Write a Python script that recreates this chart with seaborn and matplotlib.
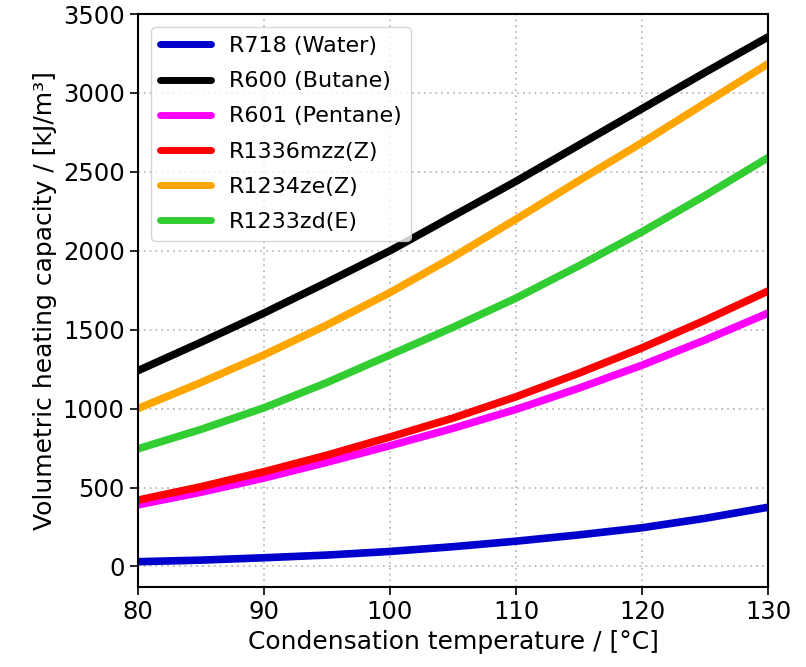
from matplotlib import pyplot as plt
import pandas as pd
import seaborn as sns

# condensation temperature, degC
temps = [80, 85, 90, 95, 100, 105, 110, 115, 120, 125, 130]

# volumetric heating capacity, kJ/m3
r718 = [30, 40, 55, 72, 95, 125, 160, 200, 245, 305, 375]
r600 = [1240, 1420, 1605, 1800, 2000, 2220, 2440, 2670, 2900, 3130, 3355]
r601 = [390, 470, 560, 660, 765, 875, 995, 1130, 1275, 1435, 1605]
r1336 = [420, 505, 600, 705, 820, 940, 1075, 1225, 1385, 1560, 1745]
r1234 = [1000, 1165, 1340, 1530, 1735, 1960, 2200, 2445, 2685, 2935, 3185]
r1233 = [745, 868, 1005, 1165, 1340, 1515, 1700, 1905, 2120, 2350, 2590]

names = ['R718 (Water)', 'R600 (Butane)', 'R601 (Pentane)',
         'R1336mzz(Z)', 'R1234ze(Z)', 'R1233zd(E)']
colors = ['#0000CD', '#000000', '#FF00FF', '#FF0000', '#FFA500', '#32CD32']

frames = []
for name, vals in zip(names, [r718, r600, r601, r1336, r1234, r1233]):
    frames.append(pd.DataFrame({'T': temps, 'VHC': vals, 'fluid': name}))
df = pd.concat(frames, ignore_index=True)

sns.set_style('ticks')
plt.rcParams['font.family'] = ['DejaVu Sans']
plt.rcParams['text.color'] = 'black'
plt.rcParams['axes.labelcolor'] = 'black'
plt.rcParams['xtick.color'] = 'black'
plt.rcParams['ytick.color'] = 'black'

fig = plt.figure(figsize=(8.06, 6.67), dpi=100)
ax = fig.add_axes([0.171, 0.12, 0.782, 0.859])

sns.lineplot(data=df, x='T', y='VHC', hue='fluid', hue_order=names,
             palette=colors, linewidth=5.5, ax=ax)

ax.set_xlim(80, 130)
ax.set_ylim(-130, 3500)
ax.set_xticks([80, 90, 100, 110, 120, 130])
ax.set_yticks(range(0, 3501, 500))
ax.grid(True, linestyle=(0, (1, 2.5)), color='#b0b0b0', linewidth=1.2)
ax.tick_params(labelsize=17.5, length=6, width=1.2, direction='out')
for s in ax.spines.values():
    s.set_linewidth(1.5)
    s.set_color('black')

ax.set_xlabel('Condensation temperature / [°C]', fontsize=18)
ax.set_ylabel('Volumetric heating capacity / [kJ/m³]', fontsize=18)

leg = ax.legend(loc='upper left', fontsize=16, handlelength=2.3,
                labelspacing=0.68, borderaxespad=0.6,
                frameon=True, fancybox=True, framealpha=0.8, edgecolor='#cccccc')
for line in leg.get_lines():
    line.set_linewidth(5)

fig.savefig('out.png', dpi=100)
